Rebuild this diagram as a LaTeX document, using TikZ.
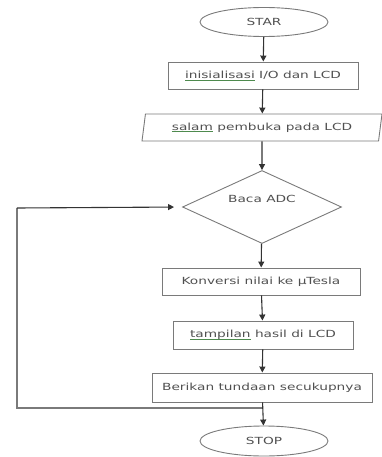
\documentclass[tikz,border=0pt]{standalone}
\usepackage{fontspec}
\usetikzlibrary{shapes.geometric,arrows.meta}
\newfontfamily\flowfont[FakeStretch=1.4]{DejaVu Sans}
\definecolor{txtgray}{HTML}{505050}
\definecolor{boxgray}{HTML}{7A7A7A}
\definecolor{arrgray}{HTML}{333333}
\definecolor{ulgreen}{HTML}{4E8A4E}
\newcommand{\spellul}[1]{\setbox0\hbox{#1}\rlap{\color{ulgreen}\rule[-1.8pt]{\wd0}{0.6pt}}\box0\relax}
\begin{document}
\begin{tikzpicture}[x=1pt,y=-1pt,
  base/.style={draw=boxgray,line width=0.9pt,font=\flowfont\fontsize{9.8}{11}\selectfont,text=txtgray,inner sep=0pt},
  term/.style={base,ellipse,minimum width=128pt,minimum height=29pt},
  procbox/.style={base,rectangle,minimum height=27pt},
  iobox/.style={base,trapezium,trapezium left angle=70,trapezium right angle=110,trapezium stretches body,minimum width=240pt,minimum height=27pt},
  decis/.style={base,diamond,minimum width=159pt,minimum height=73pt},
  lbl/.style={font=\flowfont\fontsize{9.8}{11}\selectfont,text=txtgray,inner sep=0pt},
  flow/.style={draw=arrgray,line width=1.1pt,-{Triangle[length=6pt,width=6pt]}},
  loopline/.style={draw=boxgray,line width=1.1pt}]
\useasboundingbox (0,0) rectangle (382,457);
\node[term] (start) at (264,22) {STAR};
\node[procbox,minimum width=190pt] (init) at (263,75.5) {\spellul{inisialisasi} I/O dan LCD};
\node[iobox] (salam) at (262,127.5) {\spellul{salam} pembuka pada LCD};
\node[decis] (baca) at (262,207) {};
\node[lbl] (bacat) at (262,199) {Baca ADC};
\node[procbox,minimum width=198pt] (konv) at (261,281.5) {Konversi nilai ke µTesla};
\node[procbox,minimum width=180pt,minimum height=28pt] (tamp) at (263,335) {\spellul{tampilan} hasil di LCD};
\node[procbox,minimum width=220pt,minimum height=29pt] (beri) at (262,387.5) {Berikan tundaan secukupnya};
\node[term,minimum height=30pt] (stop) at (264,441) {STOP};
\coordinate (lb) at (17,408);
\coordinate (lt) at (17,208);
\coordinate (lj) at (beri.south |- lb);
\draw[flow] (start) -- (init);
\draw[flow] (init) -- (salam);
\draw[flow] (salam) -- (baca);
\draw[flow] (baca) -- (konv);
\draw[flow] (konv) -- (tamp);
\draw[flow] (tamp) -- (beri);
\draw[flow] (beri) -- (stop);
\draw[loopline] (lj) -- (lb) -- (lt);
\draw[flow,shorten >=8pt] (lt) -- (baca.west);
\end{tikzpicture}
\end{document}
